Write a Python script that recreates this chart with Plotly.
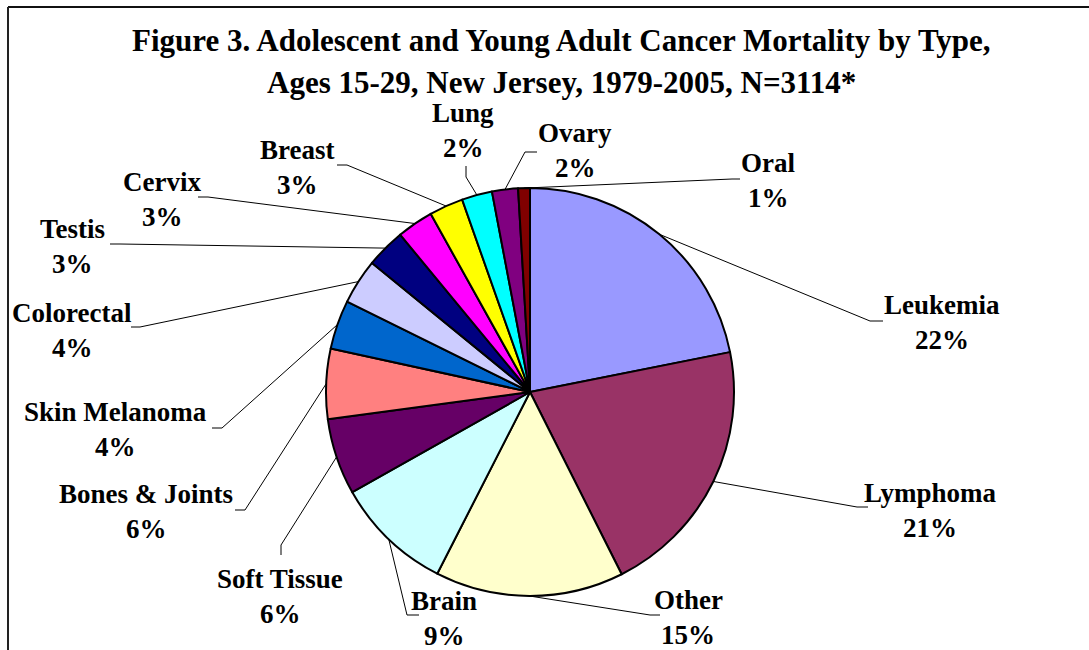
import math
import plotly.graph_objects as go

# ---------------- data ----------------
categories = ["Leukemia", "Lymphoma", "Other", "Brain", "Soft Tissue",
              "Bones & Joints", "Skin Melanoma", "Colorectal", "Testis",
              "Cervix", "Breast", "Lung", "Ovary", "Oral"]
deaths = [681, 645, 465, 290, 188, 173, 121, 112, 97, 90, 84, 75, 64, 29]
colors = ["#9999FF", "#993366", "#FFFFCC", "#CCFFFF", "#660066", "#FF8080",
          "#0066CC", "#CCCCFF", "#000080", "#FF00FF", "#FFFF00", "#00FFFF",
          "#800080", "#800000"]
title_lines = ["Figure 3. Adolescent and Young Adult Cancer Mortality by Type,",
               "Ages 15-29, New Jersey, 1979-2005, N=3114*"]

# ---------------- layout (pixels) ----------------
W, H = 1089, 650
CX, CY, R = 530, 392, 204
LABEL_FONT = 27
TITLE_FONT = 31
LINE_GAP = 35

# label centre (x, y of name line), leader elbow, leader end
label_layout = {
    "Leukemia":       ((942, 305), (870, 321), (883, 321)),
    "Lymphoma":       ((930, 493), (857, 507), (868, 507)),
    "Other":          ((688, 600), (650, 615), (660, 615)),
    "Brain":          ((444, 601), (407, 615), (419, 615)),
    "Soft Tissue":    ((280, 579), (281, 545), (281, 555)),
    "Bones & Joints": ((146, 494), (245, 510), (235, 510)),
    "Skin Melanoma":  ((115, 412), (222, 428), (212, 428)),
    "Colorectal":     ((72, 313), (140, 327), (131, 327)),
    "Testis":         ((72, 229), (120, 244), (110, 244)),
    "Cervix":         ((162, 182), (208, 197), (198, 197)),
    "Breast":         ((297, 150), (347, 165), (337, 165)),
    "Lung":           ((463, 113), (466, 177), (466, 166)),
    "Ovary":          ((575, 133), (525, 152), (537, 152)),
    "Oral":           ((768, 163), (732, 179), (740, 179)),
}


def px(x):
    return x / W


def py(y):
    return 1 - y / H


fig = go.Figure()
fig.add_trace(go.Pie(
    labels=categories, values=deaths, sort=False, direction="clockwise",
    rotation=0, textinfo="none", hoverinfo="label+percent",
    marker=dict(colors=colors, line=dict(color="#000000", width=2)),
    domain=dict(x=[px(CX - R), px(CX + R)], y=[py(CY + R), py(CY - R)]),
    showlegend=False,
))

total = sum(deaths)
annotations = []
shapes = []
cum = 0.0
font = dict(family="Liberation Serif, Times New Roman, serif", size=LABEL_FONT, color="#000000")
for cat, v in zip(categories, deaths):
    mid = (cum + v / 2) / total * 2 * math.pi
    cum += v
    sx = CX + R * math.sin(mid)
    sy = CY - R * math.cos(mid)
    (tx, ty), (ex, ey), (fx, fy) = label_layout[cat]
    pct = f"{round(v / total * 100)}%"
    annotations.append(dict(x=px(tx), y=py(ty), xref="paper", yref="paper",
                            text=f"<b>{cat}</b>", showarrow=False, font=font,
                            xanchor="center", yanchor="middle"))
    annotations.append(dict(x=px(tx), y=py(ty + LINE_GAP), xref="paper", yref="paper",
                            text=f"<b>{pct}</b>", showarrow=False, font=font,
                            xanchor="center", yanchor="middle"))
    shapes.append(dict(type="path", xref="paper", yref="paper",
                       path=f"M {px(sx)} {py(sy)} L {px(ex)} {py(ey)} L {px(fx)} {py(fy)}",
                       line=dict(color="#000000", width=1)))

for i, t in enumerate(title_lines):
    annotations.append(dict(x=px(561), y=py(40 + 42 * i), xref="paper", yref="paper",
                            text=f"<b>{t}</b>", showarrow=False,
                            font=dict(family="Liberation Serif, Times New Roman, serif",
                                      size=TITLE_FONT, color="#000000"),
                            xanchor="center", yanchor="middle"))

# frame (top and left edges)
shapes.append(dict(type="line", xref="paper", yref="paper", x0=px(8), x1=1, y0=py(7), y1=py(7),
                   line=dict(color="#111111", width=2)))
shapes.append(dict(type="line", xref="paper", yref="paper", x0=px(8), x1=px(8), y0=py(7), y1=0,
                   line=dict(color="#222222", width=2)))

fig.update_layout(
    width=W, height=H, margin=dict(l=0, r=0, t=0, b=0),
    paper_bgcolor="#FFFFFF", plot_bgcolor="#FFFFFF",
    annotations=annotations, shapes=shapes,
)

fig.write_html("out.html", config={"displayModeBar": False},
               post_script="document.body.style.margin='0';document.body.style.padding='0';"
                           "document.documentElement.style.overflow='hidden';")
